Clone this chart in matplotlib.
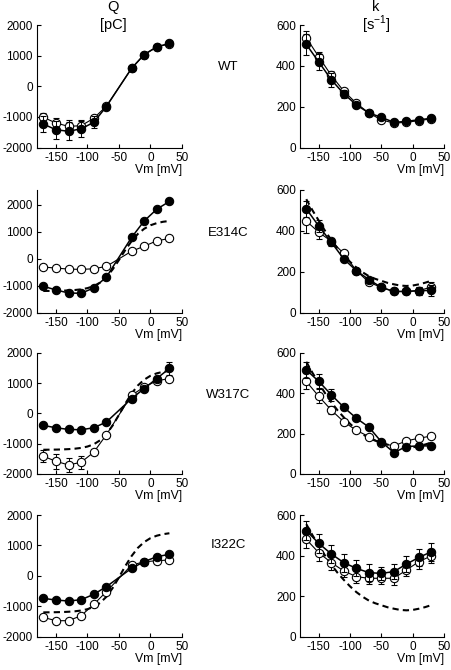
import numpy as np
import matplotlib
matplotlib.use("Agg")
import matplotlib.pyplot as plt

plt.rcParams['font.family'] = ['Liberation Sans', 'DejaVu Sans']

# Voltages
V_Q = [-170, -150, -130, -110, -90, -70, -30, -10, 10, 30]
V_K = [-170, -150, -130, -110, -90, -70, -50, -30, -10, 10, 30]
V_FIT = [-170, -160, -150, -140, -130, -120, -110, -100, -90, -80, -70,
         -60, -50, -40, -30, -20, -10, 0, 10, 20, 30]

# WT fit curves (dashed reference in mutant panels)
wt_q_fit = [-1200, -1198, -1195, -1190, -1180, -1165, -1140, -1095, -1020, -890, -690,
            -400, -50, 320, 650, 920, 1110, 1240, 1320, 1370, 1400]
wt_k_fit = [555, 500, 450, 400, 355, 315, 280, 248, 220, 197, 178,
            165, 155, 145, 138, 132, 130, 132, 138, 146, 156]

constructs = ["WT", "E314C", "W317C", "I322C"]

# Q data: filled circles and open circles
q_filled = {
    "WT":    [-1233, -1420, -1470, -1390, -1178, -663, 586, 1036, 1288, 1397],
    "E314C": [-1025, -1162, -1275, -1287, -1087, -687, 787, 1400, 1837, 2125],
    "W317C": [-398, -475, -530, -541, -475, -287, 486, 818, 1149, 1481],
    "I322C": [-740, -795, -827, -784, -608, -356, 247, 466, 630, 707],
}
q_filled_err = {
    "WT":    [250, 300, 300, 280, 200, 60, 60, 60, 60, 60],
    "E314C": [50, 50, 50, 50, 50, 50, 50, 50, 50, 50],
    "W317C": [60, 60, 60, 60, 60, 60, 100, 60, 60, 200],
    "I322C": [60, 60, 60, 60, 60, 60, 60, 60, 60, 60],
}
q_open = {
    "WT":    [-1014, -1200, -1310, -1288, -1046, -650, 580, 1030, 1280, 1390],
    "E314C": [-312, -350, -387, -400, -375, -287, 275, 462, 662, 750],
    "W317C": [-1414, -1580, -1702, -1613, -1282, -707, 597, 870, 1072, 1149],
    "I322C": [-1364, -1474, -1474, -1310, -937, -521, 356, 460, 499, 521],
}
q_open_err = {
    "WT":    [150, 150, 200, 150, 100, 50, 50, 50, 50, 50],
    "E314C": [50, 50, 50, 50, 50, 50, 50, 50, 50, 50],
    "W317C": [200, 250, 230, 220, 100, 60, 60, 60, 60, 60],
    "I322C": [60, 60, 60, 60, 60, 60, 60, 60, 60, 60],
}

# k data
k_filled = {
    "WT":    [505, 419, 332, 263, 209, 169, 148, 123, 128, 136, 143],
    "E314C": [508, 423, 344, 262, 205, 161, 123, 103, 103, 107, 108],
    "W317C": [515, 458, 392, 330, 276, 232, 159, 106, 136, 139, 139],
    "I322C": [523, 460, 408, 365, 337, 316, 312, 321, 358, 391, 419],
}
k_filled_err = {
    "WT":    [50, 40, 35, 20, 10, 10, 10, 10, 10, 10, 10],
    "E314C": [40, 30, 20, 10, 10, 10, 10, 10, 10, 20, 25],
    "W317C": [40, 35, 30, 15, 10, 10, 10, 10, 10, 10, 10],
    "I322C": [45, 45, 45, 45, 40, 40, 30, 35, 40, 40, 45],
}
k_open = {
    "WT":    [538, 444, 353, 276, 217, 169, 135, 120, 123, 132, 140],
    "E314C": [448, 393, 349, 289, 205, 148, 123, 103, 103, 107, 125],
    "W317C": [458, 384, 316, 258, 216, 185, 152, 139, 164, 177, 188],
    "I322C": [480, 414, 365, 324, 296, 288, 288, 288, 329, 370, 399],
}
k_open_err = {
    "WT":    [35, 25, 20, 10, 10, 10, 10, 10, 10, 10, 10],
    "E314C": [60, 35, 15, 10, 10, 10, 10, 10, 10, 20, 25],
    "W317C": [40, 35, 20, 15, 10, 10, 10, 10, 10, 10, 10],
    "I322C": [45, 40, 35, 30, 30, 30, 30, 35, 30, 35, 35],
}

q_yticks = [-2000, -1000, 0, 1000, 2000]
k_yticks = [0, 200, 400, 600]
x_ticks = [-150, -100, -50, 0, 50]

W, H = 452, 670
fig = plt.figure(figsize=(W / 100, H / 100), dpi=100)

rows_px = [(25, 147.5), (190, 312.5), (352.7, 474), (515, 636.7)]
q_x = (37, 182)
k_x = (300, 444)
label_y = [67, 233, 395, 545]
q_top = [2000, 2550, 2000, 2000]


def style_axes(ax):
    for s in ['top', 'right']:
        ax.spines[s].set_visible(False)
    for s in ['left', 'bottom']:
        ax.spines[s].set_linewidth(0.8)
    ax.tick_params(direction='in', length=3, width=0.8, labelsize=8.5, pad=3)
    ax.set_xlim(-180, 50)
    ax.set_xticks(x_ticks)
    ax.set_xticklabels([str(t) for t in x_ticks])
    ax.set_xlabel("Vm [mV]", fontsize=8.8, loc='right', labelpad=0)


def draw(ax, v, yo, eo, yf, ef, fit_v=None, fit_y=None):
    ax.errorbar(v, yo, yerr=eo, fmt='-o', color='black', mfc='white', mec='black',
                ms=6, mew=0.8, lw=0.8, elinewidth=0.7, capsize=2, capthick=0.7, zorder=3)
    if fit_v is not None:
        ax.plot(fit_v, fit_y, color='black', lw=1.5, ls=(0, (3, 2)), zorder=2)
    ax.errorbar(v, yf, yerr=ef, fmt='-o', color='black', mfc='black', mec='black',
                ms=6, mew=0.8, lw=1.1, elinewidth=0.7, capsize=2, capthick=0.7, zorder=4)


for i, c in enumerate(constructs):
    top, bot = rows_px[i]
    # Q panel
    axq = fig.add_axes([q_x[0] / W, 1 - bot / H, (q_x[1] - q_x[0]) / W, (bot - top) / H])
    style_axes(axq)
    axq.set_ylim(-2000, q_top[i])
    axq.set_yticks(q_yticks)
    axq.set_yticklabels([str(t) for t in q_yticks])
    if c == "WT":
        draw(axq, V_Q, q_open[c], q_open_err[c], q_filled[c], q_filled_err[c])
    else:
        draw(axq, V_Q, q_open[c], q_open_err[c], q_filled[c], q_filled_err[c], V_FIT, wt_q_fit)

    # k panel
    axk = fig.add_axes([k_x[0] / W, 1 - bot / H, (k_x[1] - k_x[0]) / W, (bot - top) / H])
    style_axes(axk)
    axk.set_ylim(0, 600)
    axk.set_yticks(k_yticks)
    axk.set_yticklabels([str(t) for t in k_yticks])
    if c == "WT":
        draw(axk, V_K, k_open[c], k_open_err[c], k_filled[c], k_filled_err[c])
    else:
        draw(axk, V_K, k_open[c], k_open_err[c], k_filled[c], k_filled_err[c], V_FIT, wt_k_fit)

    fig.text(228 / W, 1 - label_y[i] / H, c, ha='center', va='center', fontsize=9.5)

fig.text(113 / W, 1 - 7 / H, "Q", ha='center', va='center', fontsize=10.5)
fig.text(113 / W, 1 - 25 / H, "[pC]", ha='center', va='center', fontsize=10.5)
fig.text(376 / W, 1 - 7 / H, "k", ha='center', va='center', fontsize=10.5)
fig.text(376 / W, 1 - 25 / H, "[s$^{\\mathregular{-1}}$]", ha='center', va='center', fontsize=10.5)

fig.savefig("out.png", dpi=100)
